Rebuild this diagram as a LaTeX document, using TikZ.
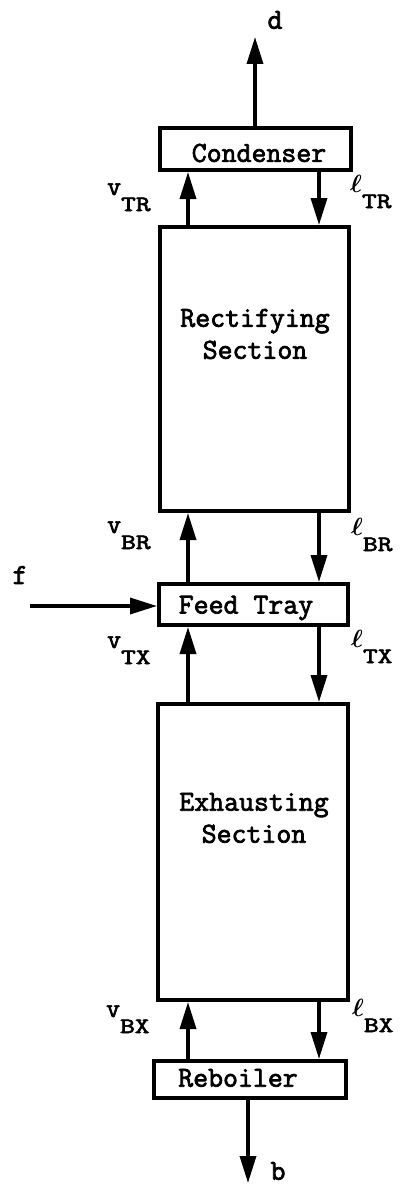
\documentclass[tikz,border=0pt]{standalone}
\usepackage{fontspec}
\setmonofont[AutoFakeBold=2.5]{Latin Modern Mono}
\usepackage{amsmath}
\usetikzlibrary{arrows.meta}
\newcommand\sublab[1]{\scalebox{1.3}[1]{\fontsize{22}{22}\selectfont\bfseries #1}}
\newcommand\vlab[1]{{\fontsize{27}{27}\selectfont\bfseries v}\raisebox{-16pt}{\sublab{#1}}}
\newcommand\llab[1]{{\fontsize{25}{25}\selectfont$\boldsymbol{\ell}$}\raisebox{-16pt}{\sublab{#1}}}
\tikzset{
  box/.style={draw, line width=4pt, inner sep=0pt},
  flow/.style={line width=3.4pt, -{Triangle[length=27pt,width=16pt]}},
  boxtext/.style={font=\ttfamily\bfseries\fontsize{29}{32}\selectfont, align=center, inner sep=0pt},
  lab/.style={inner sep=0pt, anchor=base west, font=\ttfamily},
  stream/.style={inner sep=0pt, font=\ttfamily\bfseries\fontsize{29}{29}\selectfont},
}
\begin{document}
\begin{tikzpicture}[x=1pt,y=-1pt]
\useasboundingbox (0,0) rectangle (404,1188);
% boxes
\node[box, minimum width=191pt, minimum height=42pt] (cond) at (255.5,149) {};
\node[box, minimum width=189pt, minimum height=284pt] (rect) at (254.5,369) {};
\node[box, minimum width=189pt, minimum height=41pt] (feed) at (253.5,604.5) {};
\node[box, minimum width=190pt, minimum height=296pt] (exh) at (253,852) {};
\node[box, minimum width=192pt, minimum height=37pt] (reb) at (250,1079.5) {};
% box texts
\node[boxtext] (condt) at (259,153) {Condenser};
\node[boxtext] (rectt) at (255,334) {Rectifying\\Section};
\node[boxtext] (feedt) at (246,608) {Feed Tray};
\node[boxtext] (exht) at (254,818) {Exhausting\\Section};
\node[boxtext] (rebt) at (238,1078) {Reboiler};
% columns for streams
\coordinate (xL) at (188,0);
\coordinate (xR) at (319,0);
\coordinate (dend) at (255,37);
\coordinate (bend) at (248,1183);
\coordinate (fstart) at (30,606);
% internal streams
\draw[flow] (rect.north -| xL) -- (cond.south -| xL);
\draw[flow] (cond.south -| xR) -- (rect.north -| xR);
\draw[flow] (feed.north -| xL) -- (rect.south -| xL);
\draw[flow] (rect.south -| xR) -- (feed.north -| xR);
\draw[flow] (exh.north -| xL) -- (feed.south -| xL);
\draw[flow] (feed.south -| xR) -- (exh.north -| xR);
\draw[flow] (reb.north -| xL) -- (exh.south -| xL);
\draw[flow] (exh.south -| xR) -- (reb.north -| xR);
% external streams
\draw[flow] (cond.north -| dend) -- (dend);
\draw[flow] (reb.south -| bend) -- (bend);
\draw[flow] (fstart) -- (feed.west |- fstart);
\node[stream] (d) at (275,20) {d};
\node[stream] (f) at (20,575) {f};
\node[stream] (b) at (278,1171) {b};
% stream labels
\node[lab] (vTR) at (107,195) {\vlab{TR}};
\node[lab] (lTR) at (350,192) {\llab{TR}};
\node[lab] (vBR) at (107,533) {\vlab{BR}};
\node[lab] (lBR) at (351,535) {\llab{BR}};
\node[lab] (vTX) at (107,648) {\vlab{TX}};
\node[lab] (lTX) at (351,647) {\llab{TX}};
\node[lab] (vBX) at (106,1017) {\vlab{BX}};
\node[lab] (lBX) at (352,1016) {\llab{BX}};
\end{tikzpicture}
\end{document}
